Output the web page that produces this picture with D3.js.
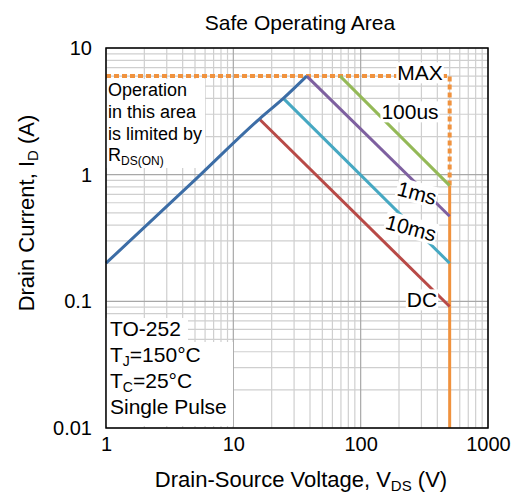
<!DOCTYPE html>
<html>
<head>
<meta charset="utf-8">
<script src="https://cdn.jsdelivr.net/npm/d3@7"></script>
<style>
  body { margin: 0; background: #fff; }
  text { font-family: "Liberation Sans", Arial, sans-serif; fill: #000; }
</style>
</head>
<body>
<svg id="chart" width="516" height="499"></svg>
<script>
// RDS(on) limit line (V, A)
const rdsV = [1, 5, 16, 24.7, 37.7];
const rdsI = [0.2, 0.91, 2.75, 4.0, 6];

// pulse lines: start on the RDS line / max current, end at max voltage
const pulseNames = ["DC", "10ms", "1ms", "100us"];
const pulseStartV = [16, 24.7, 37.7, 69];
const pulseStartI = [2.75, 4.0, 6, 6];
const pulseEndV = [500, 500, 500, 500];
const pulseEndI = [0.091, 0.2, 0.47, 0.82];

const maxCurrent = 6;
const maxVoltage = 500;

const xTicks = [1, 10, 100, 1000];
const yTicks = [0.01, 0.1, 1, 10];

const mLeft = 106, mRight = 488, mTop = 48, mBottom = 428;

const svg = d3.select("#chart");

const x = d3.scaleLog().domain([1, 1000]).range([mLeft, mRight]);
const y = d3.scaleLog().domain([0.01, 10]).range([mBottom, mTop]);

// grid
const minorX = [], minorY = [];
for (let d = 1; d < 1000; d *= 10) for (let k = 2; k <= 9; k++) minorX.push(d * k);
for (let d = 0.01; d < 10; d *= 10) for (let k = 2; k <= 9; k++) minorY.push(d * k);

const grid = svg.append("g");
grid.selectAll(".gx").data(minorX).enter().append("line")
  .attr("x1", d => x(d)).attr("x2", d => x(d))
  .attr("y1", mTop).attr("y2", mBottom)
  .attr("stroke", "#cfcfcf").attr("stroke-width", 1.2);
grid.selectAll(".gy").data(minorY).enter().append("line")
  .attr("y1", d => y(d)).attr("y2", d => y(d))
  .attr("x1", mLeft).attr("x2", mRight)
  .attr("stroke", "#cfcfcf").attr("stroke-width", 1.2);
grid.selectAll(".mx").data(xTicks).enter().append("line")
  .attr("x1", d => x(d)).attr("x2", d => x(d))
  .attr("y1", mTop).attr("y2", mBottom)
  .attr("stroke", "#a8a8a8").attr("stroke-width", 1.2);
grid.selectAll(".my").data(yTicks).enter().append("line")
  .attr("y1", d => y(d)).attr("y2", d => y(d))
  .attr("x1", mLeft).attr("x2", mRight)
  .attr("stroke", "#a8a8a8").attr("stroke-width", 1.2);

// white boxes behind annotation text
svg.append("rect").attr("x", mLeft).attr("y", 79).attr("width", 99).attr("height", 89).attr("fill", "#fff");
svg.append("rect").attr("x", mLeft).attr("y", 318).attr("width", 82).attr("height", 26).attr("fill", "#fff");
svg.append("rect").attr("x", mLeft).attr("y", 342).attr("width", 127).attr("height", 84).attr("fill", "#fff");

const line = d3.line().x(d => x(d[0])).y(d => y(d[1]));

// max current / voltage
svg.append("path")
  .attr("d", line([[1, maxCurrent], [maxVoltage, maxCurrent], [maxVoltage, pulseEndI[3]]]))
  .attr("fill", "none").attr("stroke", "#f0923e").attr("stroke-width", 4)
  .attr("stroke-dasharray", "5,3");
svg.append("path")
  .attr("d", line([[maxVoltage, pulseEndI[3]], [maxVoltage, 0.01]]))
  .attr("fill", "none").attr("stroke", "#f0923e").attr("stroke-width", 3);

const colors = ["#b84a47", "#46a8c2", "#7e60a0", "#94b957"];

svg.selectAll(".pulse").data(pulseNames).enter().append("path")
  .attr("d", (d, i) => line([[pulseStartV[i], pulseStartI[i]], [pulseEndV[i], pulseEndI[i]]]))
  .attr("fill", "none")
  .attr("stroke", (d, i) => colors[i])
  .attr("stroke-width", 3);

svg.append("path")
  .attr("d", d3.line().curve(d3.curveMonotoneX).x(d => x(d[0])).y(d => y(d[1]))(rdsV.map((v, i) => [v, rdsI[i]])))
  .attr("fill", "none").attr("stroke", "#3c6da6").attr("stroke-width", 3);

// frame
svg.append("rect")
  .attr("x", mLeft).attr("y", mTop)
  .attr("width", mRight - mLeft).attr("height", mBottom - mTop)
  .attr("fill", "none").attr("stroke", "#000").attr("stroke-width", 1.5);

// axes
const xAxis = svg.append("g")
  .attr("transform", `translate(0, ${mBottom})`)
  .call(d3.axisBottom(x).tickValues(xTicks).tickSize(0).tickPadding(9).tickFormat(d3.format("~g")));
const yAxis = svg.append("g")
  .attr("transform", `translate(${mLeft}, 0)`)
  .call(d3.axisLeft(y).tickValues(yTicks).tickSize(0).tickPadding(14).tickFormat(d3.format("~g")));
[xAxis, yAxis].forEach(a => {
  a.select(".domain").remove();
  a.selectAll("text").attr("font-size", 20).attr("font-family", "Liberation Sans, Arial, sans-serif").attr("fill", "#000");
});

// labels on the lines
function label(txt, cx, cy, size, angle) {
  const g = svg.append("g").attr("transform", `translate(${cx},${cy}) rotate(${angle})`);
  const r = g.append("rect").attr("fill", "#fff");
  const t = g.append("text").attr("text-anchor", "middle").attr("dy", "0.35em")
    .attr("font-size", size).text(txt);
  const b = t.node().getBBox();
  r.attr("x", b.x - 1).attr("y", b.y + 1).attr("width", b.width + 2).attr("height", b.height - 2);
}
label("MAX", 420, 73, 21, 0);
label("100us", 410, 112, 21, 0);
label("1ms", 417, 193, 21, 15);
label("10ms", 411, 228, 21, 15);
label("DC", 422, 300, 21, 0);

// RDS(on) note
const note = svg.append("text").attr("font-size", 18);
["Operation", "in this area", "is limited by"].forEach((s, i) => {
  note.append("tspan").attr("x", 108).attr("y", 96 + i * 22).text(s);
});
const rds = svg.append("text").attr("x", 108).attr("y", 161).attr("font-size", 18);
rds.append("tspan").text("R");
rds.append("tspan").attr("font-size", 12).attr("dy", 4).text("DS(ON)");

// conditions
const cond = [["TO-252", null, ""], ["T", "J", "=150°C"], ["T", "C", "=25°C"], ["Single Pulse", null, ""]];
cond.forEach((c, i) => {
  const t = svg.append("text").attr("x", 110).attr("y", 336 + i * 26).attr("font-size", 21);
  t.append("tspan").text(c[0]);
  if (c[1]) {
    t.append("tspan").attr("font-size", 14).attr("dy", 4).text(c[1]);
    t.append("tspan").attr("dy", -4).text(c[2]);
  }
});

// titles
svg.append("text").attr("x", 300).attr("y", 30).attr("text-anchor", "middle")
  .attr("font-size", 21).text("Safe Operating Area");

const xt = svg.append("text").attr("x", 301).attr("y", 487).attr("text-anchor", "middle").attr("font-size", 22);
xt.append("tspan").text("Drain-Source Voltage, V");
xt.append("tspan").attr("font-size", 15).attr("dy", 4).text("DS");
xt.append("tspan").attr("dy", -4).text(" (V)");

const yt = svg.append("text").attr("transform", "translate(34, 213) rotate(-90)")
  .attr("text-anchor", "middle").attr("font-size", 22);
yt.append("tspan").text("Drain Current, I");
yt.append("tspan").attr("font-size", 15).attr("dy", 4).text("D");
yt.append("tspan").attr("dy", -4).text(" (A)");
</script>
</body>
</html>
